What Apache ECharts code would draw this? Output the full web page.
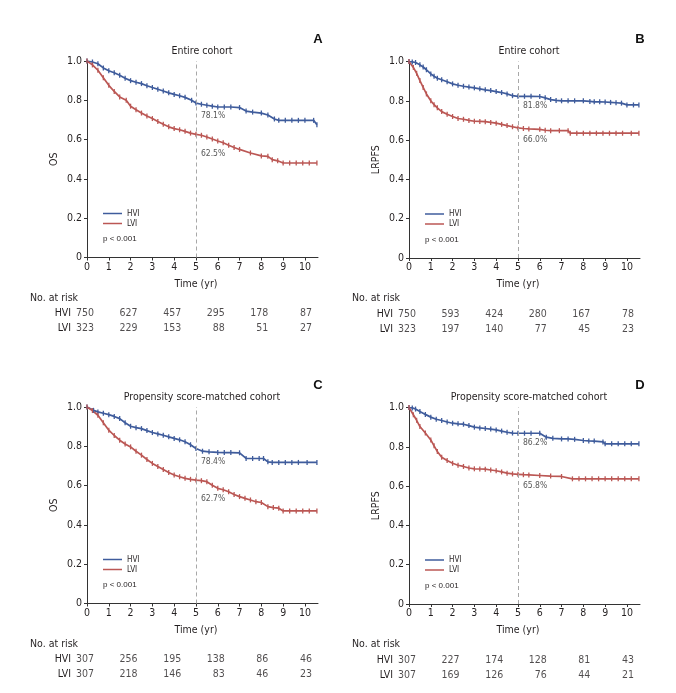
<!DOCTYPE html>
<html>
<head>
<meta charset="utf-8">
<script src="https://cdn.jsdelivr.net/npm/echarts@6/dist/echarts.min.js"></script>
<style>
body{margin:0;background:#fff}
#main{width:676px;height:693px}
</style>
</head>
<body>
<div id="main"></div>
<script>
var FONT = '"Liberation Sans Narrow","DejaVu Sans Condensed",sans-serif';
var HVI_COLOR = '#3f5c9c';
var LVI_COLOR = '#bb5754';
var TEXT = '#231f20';

var xTicks = [0, 1, 2, 3, 4, 5, 6, 7, 8, 9, 10];
var riskTimes = [0, 2, 4, 6, 8, 10];
var groups = ['HVI', 'LVI'];

// A - OS, entire cohort
var aHvi = [[0,1],[0.25,0.995],[0.5,0.986],[0.75,0.965],[1,0.95],[1.25,0.94],[1.5,0.927],[1.75,0.912],[2,0.9],[2.25,0.892],[2.5,0.885],[2.75,0.874],[3,0.865],[3.25,0.856],[3.5,0.847],[3.75,0.838],[4,0.83],[4.25,0.823],[4.5,0.815],[4.8,0.8],[5,0.786],[5.25,0.78],[5.5,0.775],[5.75,0.77],[6,0.766],[6.3,0.766],[6.6,0.766],[7,0.763],[7.3,0.745],[7.6,0.74],[8,0.735],[8.3,0.725],[8.6,0.705],[8.8,0.698],[9.1,0.698],[9.4,0.698],[9.7,0.698],[10,0.698],[10.4,0.698],[10.55,0.676]];
var aLvi = [[0,1],[0.25,0.98],[0.5,0.953],[0.75,0.915],[1,0.876],[1.25,0.845],[1.5,0.817],[1.8,0.8],[2,0.77],[2.25,0.752],[2.5,0.735],[2.75,0.72],[3,0.707],[3.25,0.692],[3.5,0.678],[3.75,0.665],[4,0.656],[4.25,0.65],[4.5,0.642],[4.75,0.633],[5,0.627],[5.25,0.622],[5.5,0.613],[5.75,0.603],[6,0.593],[6.25,0.584],[6.5,0.571],[6.75,0.56],[7,0.55],[7.5,0.532],[8,0.517],[8.3,0.515],[8.5,0.498],[8.75,0.492],[9,0.481],[9.3,0.481],[9.6,0.481],[9.9,0.481],[10.2,0.481],[10.55,0.481]];
var aRiskHvi = [750, 627, 457, 295, 178, 87];
var aRiskLvi = [323, 229, 153, 88, 51, 27];
var aPct = ['78.1%', '62.5%'];
var aPctY = [0.72, 0.53];

// B - LRPFS, entire cohort
var bHvi = [[0,1],[0.15,0.998],[0.3,0.995],[0.5,0.983],[0.65,0.972],[0.8,0.958],[1,0.937],[1.15,0.925],[1.3,0.915],[1.5,0.907],[1.75,0.897],[2,0.886],[2.25,0.879],[2.5,0.874],[2.75,0.87],[3,0.866],[3.25,0.861],[3.5,0.856],[3.75,0.852],[4,0.847],[4.25,0.842],[4.5,0.835],[4.75,0.826],[5,0.823],[5.3,0.823],[5.6,0.823],[6,0.822],[6.25,0.815],[6.5,0.806],[6.75,0.802],[7,0.8],[7.3,0.8],[7.6,0.8],[8,0.8],[8.3,0.797],[8.5,0.795],[8.75,0.795],[9,0.794],[9.25,0.792],[9.5,0.79],[9.75,0.788],[10,0.779],[10.3,0.779],[10.55,0.779]];
var bLvi = [[0,1],[0.2,0.97],[0.35,0.94],[0.5,0.903],[0.65,0.868],[0.8,0.835],[1,0.8],[1.15,0.78],[1.3,0.764],[1.5,0.745],[1.75,0.732],[2,0.72],[2.25,0.71],[2.5,0.706],[2.75,0.7],[3,0.696],[3.25,0.695],[3.5,0.694],[3.75,0.69],[4,0.686],[4.25,0.68],[4.5,0.674],[4.75,0.668],[5,0.662],[5.25,0.659],[5.5,0.657],[6,0.655],[6.25,0.65],[6.5,0.648],[6.9,0.648],[7.3,0.648],[7.4,0.635],[7.7,0.635],[8,0.635],[8.3,0.635],[8.6,0.635],[8.9,0.635],[9.2,0.635],[9.5,0.635],[9.8,0.635],[10.2,0.635],[10.55,0.635]];
var bRiskHvi = [750, 593, 424, 280, 167, 78];
var bRiskLvi = [323, 197, 140, 77, 45, 23];
var bPct = ['81.8%', '66.0%'];
var bPctY = [0.773, 0.603];

// C - OS, propensity score-matched cohort
var cHvi = [[0,1],[0.3,0.983],[0.5,0.975],[0.75,0.968],[1,0.961],[1.25,0.952],[1.5,0.941],[1.75,0.92],[2,0.902],[2.25,0.895],[2.5,0.89],[2.75,0.88],[3,0.87],[3.25,0.863],[3.5,0.856],[3.75,0.848],[4,0.84],[4.25,0.833],[4.5,0.823],[4.75,0.808],[5,0.789],[5.3,0.775],[5.6,0.772],[6,0.769],[6.3,0.768],[6.6,0.768],[7,0.767],[7.3,0.738],[7.6,0.738],[7.9,0.738],[8.1,0.738],[8.3,0.721],[8.5,0.718],[8.8,0.718],[9.1,0.718],[9.4,0.718],[9.7,0.718],[10.1,0.718],[10.55,0.718]];
var cLvi = [[0,1],[0.25,0.982],[0.5,0.958],[0.75,0.92],[1,0.882],[1.25,0.855],[1.5,0.831],[1.75,0.812],[2,0.797],[2.25,0.775],[2.5,0.755],[2.75,0.733],[3,0.713],[3.25,0.697],[3.5,0.682],[3.75,0.667],[4,0.654],[4.25,0.645],[4.5,0.637],[4.75,0.632],[5,0.628],[5.25,0.625],[5.5,0.62],[5.75,0.602],[6,0.586],[6.25,0.579],[6.5,0.569],[6.75,0.555],[7,0.544],[7.25,0.535],[7.5,0.527],[7.75,0.518],[8,0.514],[8.3,0.493],[8.55,0.488],[8.8,0.485],[9,0.471],[9.3,0.471],[9.6,0.471],[9.9,0.471],[10.2,0.471],[10.55,0.471]];
var cRiskHvi = [307, 256, 195, 138, 86, 46];
var cRiskLvi = [307, 218, 146, 83, 46, 23];
var cPct = ['78.4%', '62.7%'];
var cPctY = [0.721, 0.532];

// D - LRPFS, propensity score-matched cohort
var dHvi = [[0,1],[0.15,0.998],[0.3,0.992],[0.5,0.98],[0.75,0.965],[1,0.951],[1.25,0.94],[1.5,0.934],[1.75,0.926],[2,0.92],[2.25,0.917],[2.5,0.915],[2.75,0.908],[3,0.9],[3.25,0.896],[3.5,0.893],[3.75,0.89],[4,0.886],[4.25,0.88],[4.5,0.874],[4.75,0.87],[5,0.869],[5.3,0.869],[5.6,0.869],[6,0.869],[6.3,0.849],[6.6,0.843],[7,0.84],[7.3,0.84],[7.6,0.838],[8,0.832],[8.25,0.83],[8.5,0.829],[8.9,0.825],[9,0.815],[9.3,0.815],[9.6,0.815],[9.9,0.815],[10.2,0.815],[10.55,0.815]];
var dLvi = [[0,1],[0.2,0.963],[0.35,0.935],[0.5,0.903],[0.75,0.87],[1,0.835],[1.15,0.805],[1.3,0.776],[1.5,0.747],[1.75,0.73],[2,0.716],[2.25,0.706],[2.5,0.7],[2.75,0.692],[3,0.688],[3.25,0.687],[3.5,0.686],[3.75,0.682],[4,0.678],[4.25,0.672],[4.5,0.666],[4.75,0.662],[5,0.66],[5.25,0.658],[5.5,0.657],[6,0.654],[6.5,0.651],[7,0.649],[7.5,0.637],[7.8,0.637],[8.1,0.637],[8.4,0.637],[8.7,0.637],[9,0.637],[9.3,0.637],[9.6,0.637],[9.9,0.637],[10.2,0.637],[10.55,0.637]];
var dRiskHvi = [307, 227, 174, 128, 81, 43];
var dRiskLvi = [307, 169, 126, 76, 44, 21];
var dPct = ['86.2%', '65.8%'];
var dPctY = [0.82, 0.603];

var panels = [
  {letter:'A', title:'Entire cohort', yName:'OS', x:87, y:61, titleX:202,
   hvi:aHvi, lvi:aLvi, riskHvi:aRiskHvi, riskLvi:aRiskLvi, pct:aPct, pctY:aPctY},
  {letter:'B', title:'Entire cohort', yName:'LRPFS', x:409, y:61.5, titleX:529,
   hvi:bHvi, lvi:bLvi, riskHvi:bRiskHvi, riskLvi:bRiskLvi, pct:bPct, pctY:bPctY},
  {letter:'C', title:'Propensity score-matched cohort', yName:'OS', x:87, y:407, titleX:202,
   hvi:cHvi, lvi:cLvi, riskHvi:cRiskHvi, riskLvi:cRiskLvi, pct:cPct, pctY:cPctY},
  {letter:'D', title:'Propensity score-matched cohort', yName:'LRPFS', x:409, y:407.5, titleX:529,
   hvi:dHvi, lvi:dLvi, riskHvi:dRiskHvi, riskLvi:dRiskLvi, pct:dPct, pctY:dPctY}
];

var W = 231, H = 196.5, XMAX = 10.6;

var option = {
  animation: false,
  backgroundColor: '#fff',
  textStyle: {fontFamily: FONT},
  grid: [], xAxis: [], yAxis: [], series: [], legend: [], graphic: []
};

function curve(name, data, color, gi, extra) {
  var s = {
    name: name, type: 'line', xAxisIndex: gi, yAxisIndex: gi,
    data: data, symbol: 'rect', symbolSize: [1.3, 5], showSymbol: true, showAllSymbol: true,
    lineStyle: {color: color, width: 1.7}, itemStyle: {color: color},
    emphasis: {disabled: true}
  };
  for (var k in extra) s[k] = extra[k];
  return s;
}

panels.forEach(function (p) {
  var gi = option.grid.length;
  var ri = gi + 1;
  var riskTop = p.y + 245;

  option.grid.push({left: p.x, top: p.y, width: W, height: H});
  option.grid.push({left: p.x, top: riskTop, width: W, height: 30});

  option.xAxis.push({
    gridIndex: gi, type: 'value', min: 0, max: XMAX,
    axisLine: {lineStyle: {color: '#333', width: 1}},
    axisTick: {length: 3, lineStyle: {color: '#333'}, customValues: xTicks},
    axisLabel: {customValues: xTicks, margin: 4, fontSize: 10.5, color: TEXT, fontFamily: FONT},
    splitLine: {show: false}
  });
  option.yAxis.push({
    gridIndex: gi, type: 'value', min: 0, max: 1, interval: 0.2,
    name: p.yName, nameLocation: 'middle', nameGap: 27, nameRotate: 90,
    nameTextStyle: {fontSize: 10.5, color: TEXT, fontFamily: FONT},
    axisLine: {show: true, lineStyle: {color: '#333', width: 1}},
    axisTick: {show: true, length: 3, lineStyle: {color: '#333'}},
    axisLabel: {margin: 5, fontSize: 10.5, color: TEXT, fontFamily: FONT,
      formatter: function (v) { return v === 0 ? '0' : v.toFixed(1); }},
    splitLine: {show: false}
  });

  // risk table grid
  option.xAxis.push({gridIndex: ri, type: 'value', min: 0, max: XMAX, show: false});
  option.yAxis.push({
    gridIndex: ri, type: 'category', data: groups, inverse: true,
    axisLine: {show: false}, axisTick: {show: false}, splitLine: {show: false},
    axisLabel: {margin: 16, fontSize: 10.5, color: TEXT, fontFamily: FONT}
  });

  option.series.push(curve('HVI', p.hvi, HVI_COLOR, gi, {
    markLine: {
      silent: true, symbol: 'none', label: {show: false},
      lineStyle: {color: '#a8a8a8', type: [4, 3], width: 1},
      data: [{xAxis: 5}]
    }
  }));
  option.series.push(curve('LVI', p.lvi, LVI_COLOR, gi, {}));

  // 5-year percentages
  option.series.push({
    type: 'scatter', xAxisIndex: gi, yAxisIndex: gi, symbolSize: 0, silent: true,
    data: p.pct.map(function (t, i) { return [5, p.pctY[i], t]; }),
    label: {show: true, position: 'right', distance: 5, fontSize: 8.5, color: '#2b2b2b',
      fontFamily: FONT, formatter: function (d) { return d.value[2]; }}
  });

  // number at risk
  [p.riskHvi, p.riskLvi].forEach(function (arr, k) {
    option.series.push({
      type: 'scatter', xAxisIndex: ri, yAxisIndex: ri, symbolSize: 0, silent: true,
      data: riskTimes.map(function (t, i) { return [t, groups[k], arr[i]]; }),
      label: {show: true, position: [7, 0], align: 'right', verticalAlign: 'middle',
        fontSize: 10.5, color: TEXT, fontFamily: FONT,
        formatter: function (d) { return d.value[2]; }}
    });
  });

  option.legend.push({
    data: groups, orient: 'vertical', left: p.x + 16, top: p.y + 147.5,
    padding: 0, itemGap: 0, itemWidth: 19, itemHeight: 1.5, icon: 'rect',
    selectedMode: false,
    textStyle: {fontSize: 8, lineHeight: 10, color: TEXT, fontFamily: FONT, padding: [0, 0, 0, 0]}
  });

  option.graphic.push(
    {type: 'text', left: p.x + 16, top: p.y + 174,
      style: {text: 'p < 0.001', fontSize: 8, fill: TEXT, font: '8px ' + FONT}},
    {type: 'text', x: p.titleX, y: p.y - 10,
      style: {text: p.title, fill: TEXT, font: '10.5px ' + FONT, align: 'center', verticalAlign: 'middle'}},
    {type: 'text', x: p.x + 231, y: p.y - 22,
      style: {text: p.letter, fill: '#111', font: 'bold 13px "Liberation Sans", Arial, sans-serif', align: 'center', verticalAlign: 'middle'}},
    {type: 'text', x: p.x + 109, y: p.y + 223,
      style: {text: 'Time (yr)', fill: TEXT, font: '10.5px ' + FONT, align: 'center', verticalAlign: 'middle'}},
    {type: 'text', x: p.x - 57, y: p.y + 237,
      style: {text: 'No. at risk', fill: TEXT, font: '10.5px ' + FONT, align: 'left', verticalAlign: 'middle'}}
  );
});

var myChart = echarts.init(document.getElementById('main'));
myChart.setOption(option);
</script>
</body>
</html>
